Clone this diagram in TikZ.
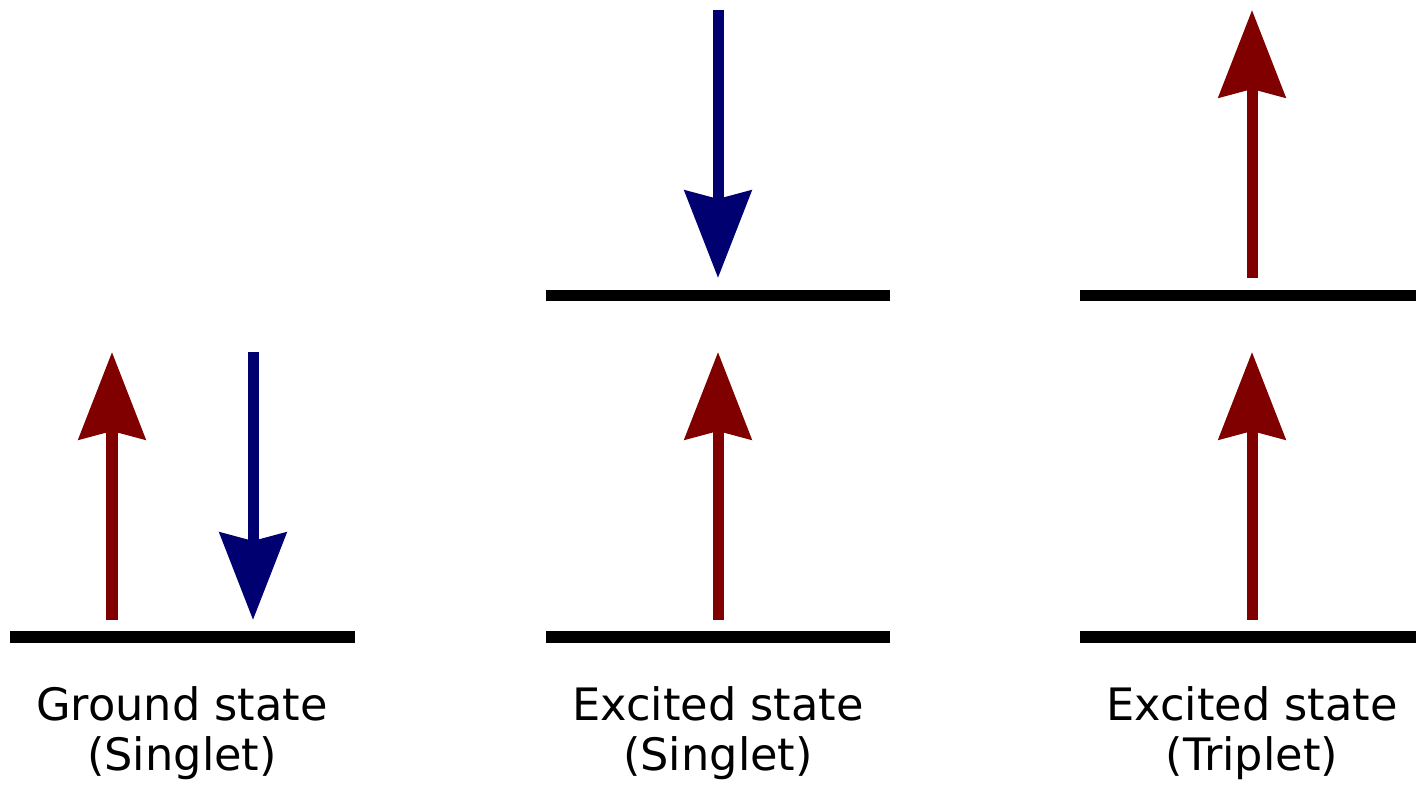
\documentclass[tikz,border=0pt]{standalone}
\usepackage{fontspec}
\setmainfont{DejaVu Sans}
\usetikzlibrary{arrows.meta}

\definecolor{spinred}{RGB}{128,0,0}
\definecolor{spinblue}{RGB}{0,0,112}

\tikzset{
  level/.style={line width=0.11cm, black},
  spin/.style={line width=0.11cm, -{Stealth[length=0.87cm, width=0.66cm, inset=0.08cm]}},
  spinup/.style={spin, spinred},
  spindown/.style={spin, spinblue},
  statelabel/.style={align=center, anchor=north, inner sep=0pt, font=\fontsize{12.7pt}{14.2pt}\selectfont}
}

\begin{document}
\begin{tikzpicture}[x=0.01cm, y=-0.01cm]
\useasboundingbox (0,0) rectangle (1416,789);

\pgfmathsetmacro{\lowY}{637}
\pgfmathsetmacro{\highY}{296}
\pgfmathsetmacro{\tailY}{620}
\pgfmathsetmacro{\tipY}{352}

% energy levels
\foreach \n/\xa/\xb in {G/10/355, S/546/890, T/1080/1416} {
  \coordinate (\n-lowL) at (\xa,\lowY);
  \coordinate (\n-lowR) at (\xb,\lowY);
  \draw[level] (\n-lowL) -- (\n-lowR);
}
\foreach \n/\xa/\xb in {S/546/890, T/1080/1416} {
  \coordinate (\n-highL) at (\xa,\highY);
  \coordinate (\n-highR) at (\xb,\highY);
  \draw[level] (\n-highL) -- (\n-highR);
}

% spins on the lower levels
\coordinate (G-up-tail) at (112,\tailY);   \coordinate (G-up-tip) at (112,\tipY);
\coordinate (G-down-tail) at (253,\tipY);  \coordinate (G-down-tip) at (253,\tailY);
\coordinate (S-up-tail) at (718,\tailY);   \coordinate (S-up-tip) at (718,\tipY);
\coordinate (T-up-tail) at (1252,\tailY);  \coordinate (T-up-tip) at (1252,\tipY);
% spins on the upper levels
\coordinate (S-down-tail) at (718,10);     \coordinate (S-down-tip) at (718,278);
\coordinate (T-up2-tail) at (1252,278);    \coordinate (T-up2-tip) at (1252,10);

\draw[spinup] (G-up-tail) -- (G-up-tip);
\draw[spindown] (G-down-tail) -- (G-down-tip);
\draw[spinup] (S-up-tail) -- (S-up-tip);
\draw[spinup] (T-up-tail) -- (T-up-tip);
\draw[spindown] (S-down-tail) -- (S-down-tip);
\draw[spinup] (T-up2-tail) -- (T-up2-tip);

% labels
\node[statelabel] (ground) at (182,686) {Ground state\\(Singlet)};
\node[statelabel] (singlet) at (718,686) {Excited state\\(Singlet)};
\node[statelabel] (triplet) at (1252,686) {Excited state\\(Triplet)};

\end{tikzpicture}
\end{document}
